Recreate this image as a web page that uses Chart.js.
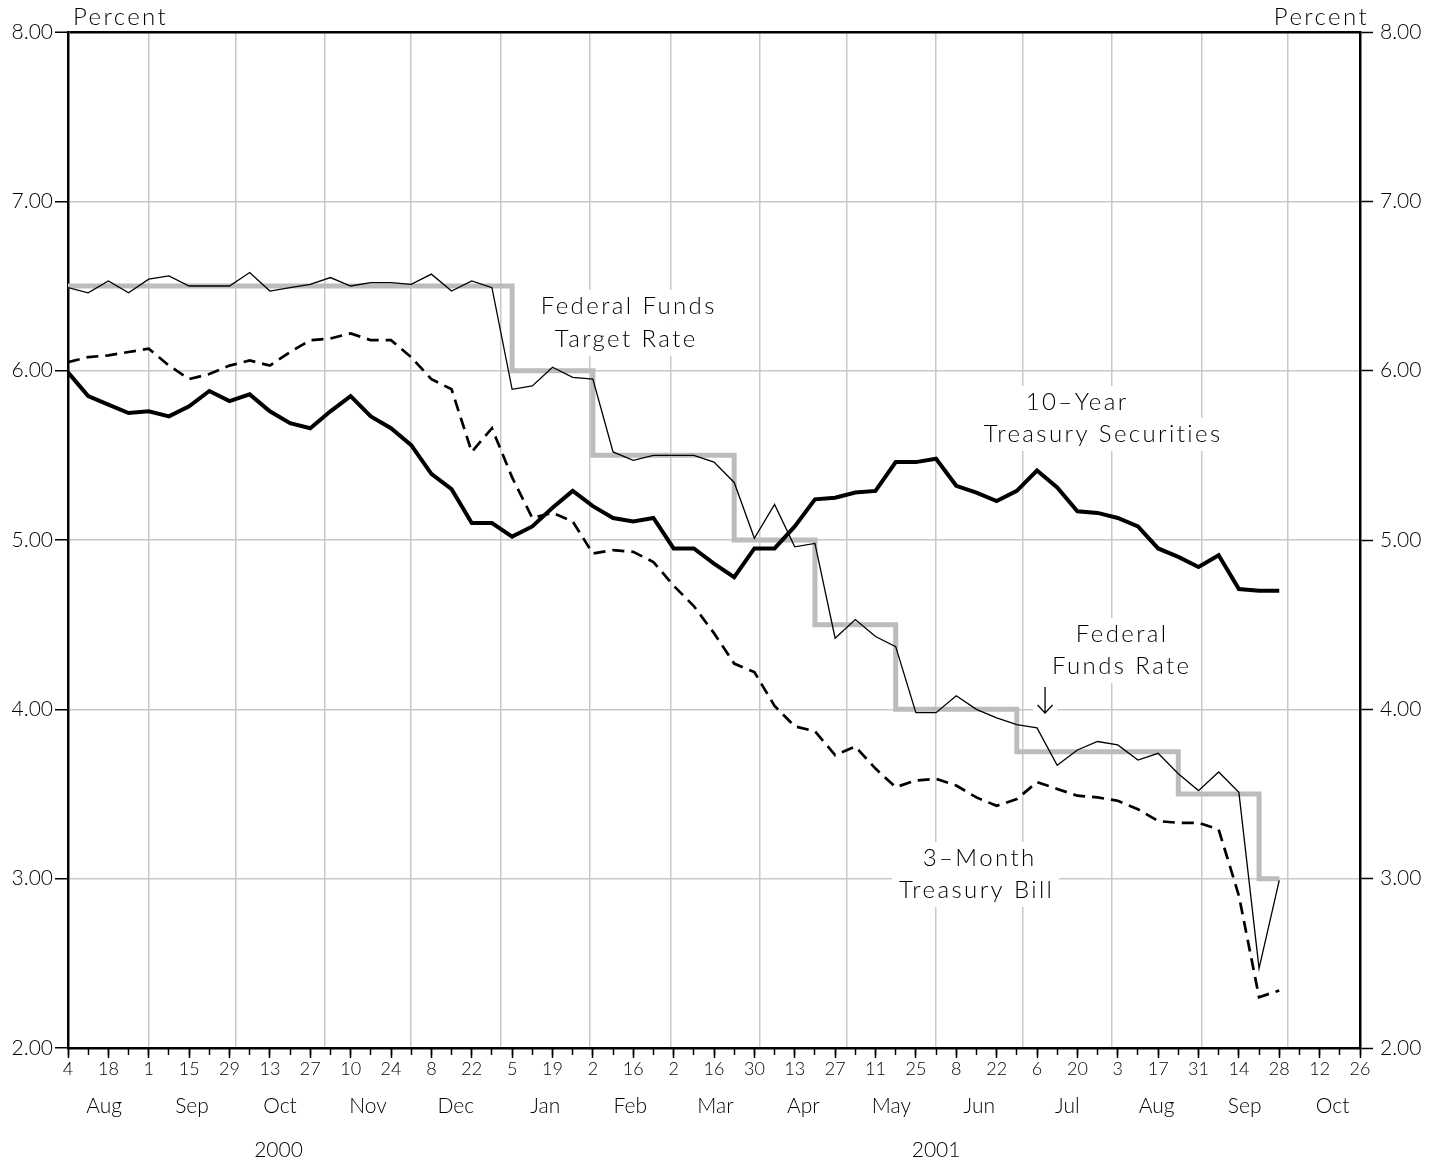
<!DOCTYPE html>
<html>
<head>
<meta charset="utf-8">
<title>Selected Interest Rates</title>
<script src="https://cdn.jsdelivr.net/npm/chart.js"></script>
<style>
  html, body { margin: 0; padding: 0; background: #ffffff; }
  canvas { display: block; }
</style>
</head>
<body>
<canvas id="chart" width="1447" height="1164"></canvas>
<script>
// ---- Data: weekly observations, week 0 = Fri Aug 4 2000 ... week 60 = Fri Sep 28 2001 ----
const tenYearTreasury = [
  5.99, 5.85, 5.80, 5.75, 5.76, 5.73, 5.79, 5.88, 5.82, 5.86,
  5.76, 5.69, 5.66, 5.76, 5.85, 5.73, 5.66, 5.56, 5.39, 5.30,
  5.10, 5.10, 5.02, 5.08, 5.19, 5.29, 5.20, 5.13, 5.11, 5.13,
  4.95, 4.95, 4.86, 4.78, 4.95, 4.95, 5.08, 5.24, 5.25, 5.28,
  5.29, 5.46, 5.46, 5.48, 5.32, 5.28, 5.23, 5.29, 5.41, 5.31,
  5.17, 5.16, 5.13, 5.08, 4.95, 4.90, 4.84, 4.91, 4.71, 4.70,
  4.70
];
const fedFundsRate = [
  6.49, 6.46, 6.53, 6.46, 6.54, 6.56, 6.50, 6.50, 6.50, 6.58,
  6.47, 6.49, 6.51, 6.55, 6.50, 6.52, 6.52, 6.51, 6.57, 6.47,
  6.53, 6.49, 5.89, 5.91, 6.02, 5.96, 5.95, 5.52, 5.47, 5.50,
  5.50, 5.50, 5.46, 5.34, 5.01, 5.21, 4.96, 4.98, 4.42, 4.53,
  4.43, 4.37, 3.98, 3.98, 4.08, 4.00, 3.95, 3.91, 3.89, 3.67,
  3.76, 3.81, 3.79, 3.70, 3.74, 3.62, 3.52, 3.63, 3.51, 2.47,
  2.99
];
const threeMonthBill = [
  6.05, 6.08, 6.09, 6.11, 6.13, 6.03, 5.95, 5.98, 6.03, 6.06,
  6.03, 6.11, 6.18, 6.19, 6.22, 6.18, 6.18, 6.08, 5.95, 5.89,
  5.52, 5.66, 5.37, 5.13, 5.16, 5.11, 4.92, 4.94, 4.93, 4.87,
  4.73, 4.61, 4.45, 4.27, 4.22, 4.02, 3.90, 3.87, 3.73, 3.78,
  3.65, 3.54, 3.58, 3.59, 3.55, 3.48, 3.43, 3.47, 3.57, 3.53,
  3.49, 3.48, 3.46, 3.41, 3.34, 3.33, 3.33, 3.29, 2.90, 2.30,
  2.34
];
const fedFundsTarget = [
  6.50, 6.50, 6.50, 6.50, 6.50, 6.50, 6.50, 6.50, 6.50, 6.50,
  6.50, 6.50, 6.50, 6.50, 6.50, 6.50, 6.50, 6.50, 6.50, 6.50,
  6.50, 6.50, 6.00, 6.00, 6.00, 6.00, 5.50, 5.50, 5.50, 5.50,
  5.50, 5.50, 5.50, 5.00, 5.00, 5.00, 5.00, 4.50, 4.50, 4.50,
  4.50, 4.00, 4.00, 4.00, 4.00, 4.00, 4.00, 3.75, 3.75, 3.75,
  3.75, 3.75, 3.75, 3.75, 3.75, 3.50, 3.50, 3.50, 3.50, 3.00,
  3.00
];

// ---- Axis labels ----
const xTickLabels = ['4','18','1','15','29','13','27','10','24','8','22','5','19','2','16','2','16',
                     '30','13','27','11','25','8','22','6','20','3','17','31','14','28','12','26'];
const monthLabels = ['Aug','Sep','Oct','Nov','Dec','Jan','Feb','Mar','Apr','May','Jun','Jul','Aug','Sep','Oct'];
const yearLabels = ['2000', '2001'];
const yearLabelDates = [[2000, 9, 16], [2001, 5, 1]];
const firstMonth = [2000, 7];           // Aug 2000
const lastWeek = 64;                    // Oct 26 2001

// ---- Helpers (date -> week index on the linear x scale) ----
const DAY = 86400000;
const origin = Date.UTC(2000, 7, 4);
const weekOf = (y, m, d) => (Date.UTC(y, m, d) - origin) / (7 * DAY);
const pts = arr => arr.map((v, i) => ({ x: i, y: v }));

const allWeeks = Array.from({ length: lastWeek + 1 }, (_, i) => i);
const labelWeeks = xTickLabels.map((_, i) => i * 2);
const monthMidWeeks = monthLabels.map((_, i) =>
  (weekOf(firstMonth[0], firstMonth[1] + i, 1) + weekOf(firstMonth[0], firstMonth[1] + i + 1, 1)) / 2);
const monthStartWeeks = monthLabels.map((_, i) => weekOf(firstMonth[0], firstMonth[1] + i, 1))
  .filter(w => w > 0 && w < lastWeek);
const yearWeeks = yearLabelDates.map(d => weekOf(d[0], d[1], d[2]));

// ---- Styling ----
const FAMILY = "Lato, 'DejaVu Sans', sans-serif";
const BLACK = '#000000';
const GRID = '#c9c9c9';
const TARGET = '#bcbcbc';

const fixH = h => s => { s.height = h; };
const fixW = w => s => { s.width = w; };
const setTicks = vals => s => { s.ticks = vals.map(v => ({ value: v })); };

// Annotation text (data coordinates: week index, percent at text baseline)
const notes = [
  { text: 'Federal Funds', x: 27.72, y: 6.335 },
  { text: 'Target Rate', x: 27.59, y: 6.140 },
  { text: '10\u2013Year', x: 49.93, y: 5.768 },
  { text: 'Treasury Securities', x: 51.22, y: 5.579 },
  { text: 'Federal', x: 52.16, y: 4.398 },
  { text: 'Funds Rate', x: 52.14, y: 4.209 },
  { text: '3\u2013Month', x: 45.10, y: 3.075 },
  { text: 'Treasury Bill', x: 44.95, y: 2.886 }
];
const arrowNote = { x: 48.40, yTop: 4.132, yBottom: 3.978 };

const annotationPlugin = {
  id: 'annotations',
  beforeDatasetsDraw(chart) {
    const { ctx, scales: { x, y } } = chart;
    ctx.save();
    ctx.font = `300 24px ${FAMILY}`;
    ctx.letterSpacing = '2.4px';
    ctx.textAlign = 'center';
    ctx.textBaseline = 'alphabetic';
    // white boxes behind the text (hide gridlines)
    ctx.fillStyle = '#ffffff';
    for (const n of notes) {
      const w = ctx.measureText(n.text).width;
      const px = x.getPixelForValue(n.x), py = y.getPixelForValue(n.y);
      ctx.fillRect(px - w / 2 - 6, py - 24, w + 12, 33);
    }
    const ax = x.getPixelForValue(arrowNote.x);
    const at = y.getPixelForValue(arrowNote.yTop), ab = y.getPixelForValue(arrowNote.yBottom);
    ctx.fillRect(ax - 12, at - 3, 24, ab - at + 6);
    // text
    ctx.fillStyle = BLACK;
    for (const n of notes) {
      ctx.fillText(n.text, x.getPixelForValue(n.x) + 1.2, y.getPixelForValue(n.y));
    }
    // arrow
    ctx.strokeStyle = BLACK;
    ctx.lineWidth = 1.3;
    ctx.beginPath();
    ctx.moveTo(ax, at); ctx.lineTo(ax, ab);
    ctx.moveTo(ax - 7.5, ab - 8); ctx.lineTo(ax, ab); ctx.lineTo(ax + 7.5, ab - 8);
    ctx.stroke();
    ctx.restore();
  },
  afterDraw(chart) {
    const { ctx, chartArea } = chart;
    ctx.save();
    ctx.font = `300 24px ${FAMILY}`;
    ctx.letterSpacing = '2.4px';
    ctx.fillStyle = BLACK;
    ctx.textBaseline = 'alphabetic';
    ctx.textAlign = 'left';
    ctx.fillText('Percent', chartArea.left + 5, chartArea.top - 7);
    ctx.textAlign = 'right';
    ctx.fillText('Percent', chartArea.right + 9, chartArea.top - 7);
    ctx.restore();
  }
};

const tickFont = size => ({ family: FAMILY, size: size, weight: 300 });

new Chart(document.getElementById('chart').getContext('2d'), {
  type: 'line',
  data: {
    datasets: [
      { label: '10-Year Treasury Securities', data: pts(tenYearTreasury), xAxisID: 'x', yAxisID: 'y',
        borderColor: BLACK, borderWidth: 4, order: 1 },
      { label: 'Federal Funds Rate', data: pts(fedFundsRate), xAxisID: 'x', yAxisID: 'y',
        borderColor: BLACK, borderWidth: 1.3, order: 2 },
      { label: '3-Month Treasury Bill', data: pts(threeMonthBill), xAxisID: 'x', yAxisID: 'y',
        borderColor: BLACK, borderWidth: 2.7, borderDash: [12, 7], order: 3 },
      { label: 'Federal Funds Target Rate', data: pts(fedFundsTarget), xAxisID: 'x', yAxisID: 'y',
        borderColor: TARGET, borderWidth: 5, stepped: true, order: 4 }
    ]
  },
  options: {
    responsive: false,
    animation: false,
    devicePixelRatio: 1,
    layout: { padding: { top: 32, left: 0, right: 0, bottom: 0 } },
    elements: {
      point: { radius: 0, hoverRadius: 0 },
      line: { tension: 0, fill: false, borderJoinStyle: 'miter', borderCapStyle: 'butt' }
    },
    plugins: { legend: { display: false }, tooltip: { enabled: false } },
    scales: {
      xGrid: {
        type: 'linear', axis: 'x', position: 'bottom', weight: -3, min: 0, max: lastWeek,
        afterBuildTicks: setTicks(monthStartWeeks), afterFit: fixH(0),
        ticks: { display: false, autoSkip: false },
        grid: { color: GRID, lineWidth: 1.5, drawTicks: false },
        border: { display: false }
      },
      xMinor: {
        type: 'linear', axis: 'x', position: 'bottom', weight: -2, min: 0, max: lastWeek,
        afterBuildTicks: setTicks(allWeeks), afterFit: fixH(0),
        ticks: { display: false, autoSkip: false },
        grid: { drawOnChartArea: false, drawTicks: true, tickLength: 7, tickColor: BLACK, tickWidth: 1.5 },
        border: { display: false }
      },
      x: {
        type: 'linear', axis: 'x', position: 'bottom', weight: -1, min: 0, max: lastWeek,
        afterBuildTicks: setTicks(labelWeeks), afterFit: fixH(46),
        ticks: { autoSkip: false, minRotation: 0, maxRotation: 0, padding: 0, color: BLACK,
                 font: tickFont(18), callback: (v, i) => xTickLabels[i] },
        grid: { drawOnChartArea: false, drawTicks: true, tickLength: 10, tickColor: BLACK, tickWidth: 1.5 },
        border: { display: true, color: BLACK, width: 2.5 }
      },
      xMonth: {
        type: 'linear', axis: 'x', position: 'bottom', weight: 0, min: 0, max: lastWeek,
        afterBuildTicks: setTicks(monthMidWeeks), afterFit: fixH(44),
        ticks: { autoSkip: false, minRotation: 0, maxRotation: 0, padding: 0, color: BLACK,
                 font: tickFont(21), callback: (v, i) => monthLabels[i] },
        grid: { display: false, drawTicks: false },
        border: { display: false }
      },
      xYear: {
        type: 'linear', axis: 'x', position: 'bottom', weight: 1, min: 0, max: lastWeek,
        afterBuildTicks: setTicks(yearWeeks), afterFit: fixH(26),
        ticks: { autoSkip: false, minRotation: 0, maxRotation: 0, padding: 0, color: BLACK,
                 font: tickFont(21), callback: (v, i) => yearLabels[i] },
        grid: { display: false, drawTicks: false },
        border: { display: false }
      },
      y: {
        type: 'linear', position: 'left', min: 2, max: 8, afterFit: fixW(68),
        ticks: { stepSize: 1, padding: 2, color: BLACK, font: tickFont(21), callback: v => v.toFixed(2) },
        grid: {
          color: c => (c.tick && (c.tick.value === 8 || c.tick.value === 2)) ? BLACK : GRID,
          lineWidth: c => (c.tick && c.tick.value === 8) ? 2.5 : 1.5,
          tickLength: 13, tickColor: BLACK, tickWidth: 1.5
        },
        border: { display: true, color: BLACK, width: 2.5 }
      },
      yRight: {
        type: 'linear', axis: 'y', position: 'right', min: 2, max: 8, afterFit: fixW(87),
        ticks: { stepSize: 1, padding: 7, color: BLACK, font: tickFont(21), callback: v => v.toFixed(2) },
        grid: { drawOnChartArea: false, tickLength: 13, tickColor: BLACK, tickWidth: 1.5 },
        border: { display: true, color: BLACK, width: 2.5 }
      }
    }
  },
  plugins: [annotationPlugin]
});
</script>
</body>
</html>
